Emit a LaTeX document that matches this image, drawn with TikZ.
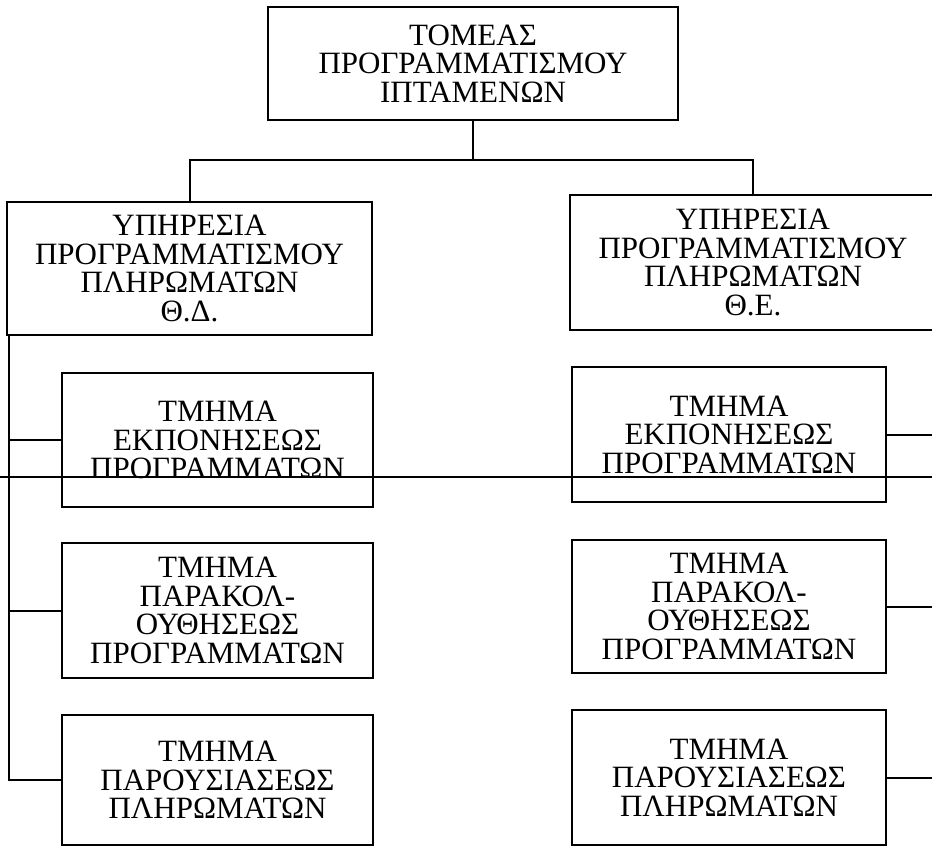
\documentclass[tikz,border=0pt]{standalone}
\usepackage{fontspec}
\setmainfont{Liberation Serif}
\usetikzlibrary{calc}

\tikzset{
  box/.style={draw, line width=2pt, align=center, inner sep=0pt,
    font=\fontsize{31}{28.5}\selectfont},
  link/.style={line width=2pt},
}

\begin{document}
\begin{tikzpicture}[x=1pt,y=-1pt]
    \useasboundingbox (0,0) rectangle (932,849) ;
    \clip (0,0) rectangle (932,849) ;

    \node[box, minimum width=410, minimum height=113] (tomeas) at (473,63.5)
      {ΤΟΜΕΑΣ\\ΠΡΟΓΡΑΜΜΑΤΙΣΜΟΥ\\ΙΠΤΑΜΕΝΩΝ} ;

    % services
    \node[box, minimum width=365, minimum height=133] (ypthd) at (189.5,268.5)
      {ΥΠΗΡΕΣΙΑ\\ΠΡΟΓΡΑΜΜΑΤΙΣΜΟΥ\\ΠΛΗΡΩΜΑΤΩΝ\\Θ.Δ.} ;
    \node[box, minimum width=366, minimum height=135] (ypthe) at (753,262.5)
      {ΥΠΗΡΕΣΙΑ\\ΠΡΟΓΡΑΜΜΑΤΙΣΜΟΥ\\ΠΛΗΡΩΜΑΤΩΝ\\Θ.Ε.} ;

    % departments
    \node[box, minimum width=311, minimum height=134] (ekpd) at (217.5,440)
      {ΤΜΗΜΑ\\ΕΚΠΟΝΗΣΕΩΣ\\ΠΡΟΓΡΑΜΜΑΤΩΝ} ;
    \node[box, minimum width=311, minimum height=135] (parakd) at (217.5,610.5)
      {ΤΜΗΜΑ\\ΠΑΡΑΚΟΛ-\\ΟΥΘΗΣΕΩΣ\\ΠΡΟΓΡΑΜΜΑΤΩΝ} ;
    \node[box, minimum width=311, minimum height=130] (parousd) at (217.5,780)
      {ΤΜΗΜΑ\\ΠΑΡΟΥΣΙΑΣΕΩΣ\\ΠΛΗΡΩΜΑΤΩΝ} ;
    \node[box, minimum width=314, minimum height=135] (ekpe) at (729,434.5)
      {ΤΜΗΜΑ\\ΕΚΠΟΝΗΣΕΩΣ\\ΠΡΟΓΡΑΜΜΑΤΩΝ} ;
    \node[box, minimum width=314, minimum height=133] (parake) at (729,606.5)
      {ΤΜΗΜΑ\\ΠΑΡΑΚΟΛ-\\ΟΥΘΗΣΕΩΣ\\ΠΡΟΓΡΑΜΜΑΤΩΝ} ;
    \node[box, minimum width=314, minimum height=135] (parouse) at (729,777.5)
      {ΤΜΗΜΑ\\ΠΑΡΟΥΣΙΑΣΕΩΣ\\ΠΛΗΡΩΜΑΤΩΝ} ;

    \coordinate (split) at (473,160) ;
    \coordinate (spine) at ($(ypthd.south west)+(3,0)$) ;
    \coordinate (rbus) at (945,0) ;

    \draw[link] (tomeas.south) -- (split) ;
    \draw[link] (ypthd.north) |- (split) -| (ypthe.north) ;

    \draw[link] (spine) |- (parousd.west) ;
    \draw[link] (spine |- ekpd.west) -- (ekpd.west) ;
    \draw[link] (spine |- parakd.west) -- (parakd.west) ;

    \draw[link] (ekpe.east) -- (ekpe.east -| rbus) ;
    \draw[link] (parake.east) -- (parake.east -| rbus) ;
    \draw[link] (parouse.east) -- (parouse.east -| rbus) ;

    \draw[line width=1.2pt] (0,477) -- (932,477) ;
\end{tikzpicture}
\end{document}
